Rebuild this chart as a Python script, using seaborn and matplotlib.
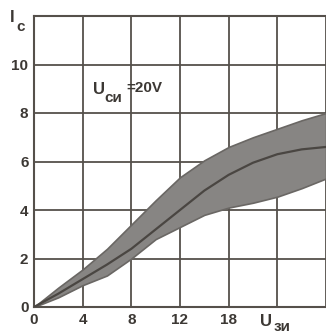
import matplotlib
matplotlib.use("Agg")
import matplotlib.pyplot as plt
import seaborn as sns
import pandas as pd

# datos
u_zi = [0, 2, 4, 6, 8, 10, 12, 14, 16, 18, 20, 22, 24]
ic_medio = [0, 0.55, 1.15, 1.75, 2.4, 3.2, 4.0, 4.8, 5.45, 5.95, 6.3, 6.5, 6.6]
ic_sup = [0, 0.8, 1.55, 2.4, 3.4, 4.4, 5.35, 6.05, 6.6, 7.0, 7.35, 7.7, 8.0]
ic_inf = [0, 0.4, 0.9, 1.3, 2.0, 2.8, 3.3, 3.8, 4.1, 4.3, 4.55, 4.9, 5.3]

x_ticks = [0, 4, 8, 12, 16]
x_labels = ["0", "4", "8", "12", "18"]
y_ticks = [0, 2, 4, 6, 8, 10]
y_labels = ["0", "2", "4", "6", "8", "10"]

sns.set_style("white")
plt.rcParams['font.family'] = ['Liberation Sans', 'DejaVu Sans']

color_linea = '#55504b'
color_texto = '#3c3834'

fig = plt.figure(figsize=(3.26, 3.33), dpi=100)
ax = fig.add_axes([34/326, 26/333, 1 - 34/326, (307 - 16)/333])

df = pd.DataFrame({'u': u_zi, 'ic': ic_medio})
# banda de dispersion
ax.fill_between(u_zi, ic_inf, ic_sup, color='#878583', edgecolor='#6a6764',
                linewidth=1.2, zorder=2)
sns.lineplot(data=df, x='u', y='ic', ax=ax, color='#4a4642', linewidth=1.6, zorder=3)

ax.set_xlim(0, 24)
ax.set_ylim(0, 12)
ax.set_xticks([0, 4, 8, 12, 16, 20, 24])
ax.set_xticklabels(x_labels + ["", ""])
ax.set_yticks(y_ticks + [12])
ax.set_yticklabels(y_labels + [""])
ax.grid(True, color=color_linea, linewidth=1.3)
ax.set_axisbelow(True)
for s in ax.spines.values():
    s.set_color(color_linea)
    s.set_linewidth(1.5)
ax.spines['right'].set_visible(False)
ax.tick_params(length=0, pad=4, labelsize=11, labelcolor=color_texto)
for t in ax.get_xticklabels() + ax.get_yticklabels():
    t.set_fontweight('bold')
ax.set_xlabel('')
ax.set_ylabel('')

# etiquetas de los ejes
fig.text(10/326, 1 - 22/333, "I", fontsize=12, fontweight='bold', color=color_texto)
fig.text(16/326, 1 - 31/333, "c", fontsize=11, fontweight='bold', color=color_texto)
fig.text(260/326, 1 - 326/333, "U", fontsize=12, fontweight='bold', color=color_texto)
fig.text(274/326, 1 - 331/333, "зи", fontsize=11, fontweight='bold', color=color_texto)

# anotacion
ax.text(4.85, 8.8, "U", fontsize=12, fontweight='bold', color=color_texto)
ax.text(5.75, 8.45, "си", fontsize=11, fontweight='bold', color=color_texto)
ax.text(7.6, 8.85, "=20V", fontsize=11, fontweight='bold', color=color_texto)

plt.savefig('out.png', dpi=100)
